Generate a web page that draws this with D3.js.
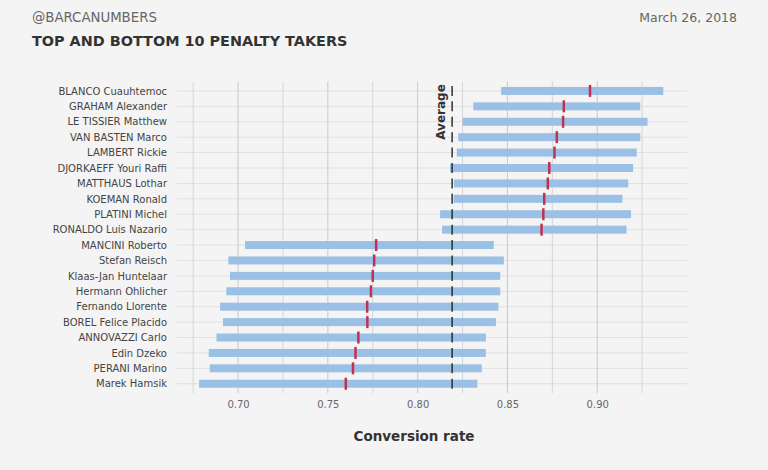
<!DOCTYPE html>
<html>
<head>
<meta charset="utf-8">
<script src="https://cdn.jsdelivr.net/npm/d3@7"></script>
<style>
    body { margin: 0; background: #f4f4f4; }
    svg { display: block; font-family: "DejaVu Sans", sans-serif; }
</style>
</head>
<body>
<div class="graph"></div>
<script>
// players, top to bottom
var players = [
    'BLANCO Cuauhtemoc', 'GRAHAM Alexander', 'LE TISSIER Matthew', 'VAN BASTEN Marco',
    'LAMBERT Rickie', 'DJORKAEFF Youri Raffi', 'MATTHAUS Lothar', 'KOEMAN Ronald',
    'PLATINI Michel', 'RONALDO Luis Nazario', 'MANCINI Roberto', 'Stefan Reisch',
    'Klaas-Jan Huntelaar', 'Hermann Ohlicher', 'Fernando Llorente', 'BOREL Felice Placido',
    'ANNOVAZZI Carlo', 'Edin Dzeko', 'PERANI Marino', 'Marek Hamsik'
];
var lowValues = [0.8465, 0.831, 0.825, 0.8226, 0.8218, 0.818, 0.8202, 0.820, 0.8125, 0.8136,
    0.7039, 0.6946, 0.6955, 0.6935, 0.690, 0.6916, 0.688, 0.6837, 0.6842, 0.6783];
var highValues = [0.9368, 0.924, 0.928, 0.924, 0.922, 0.920, 0.9173, 0.914, 0.9188, 0.9163,
    0.8424, 0.848, 0.846, 0.846, 0.845, 0.8436, 0.838, 0.838, 0.8357, 0.8333];
var rates = [0.896, 0.8814, 0.881, 0.8775, 0.8762, 0.8733, 0.8725, 0.8705, 0.870, 0.869,
    0.7769, 0.7758, 0.775, 0.774, 0.7719, 0.772, 0.767, 0.7654, 0.764, 0.760];
var average = 0.8192;
var majorTicks = [0.70, 0.75, 0.80, 0.85, 0.90];
var minorTicks = [0.675, 0.725, 0.775, 0.825, 0.875, 0.925];

var width = 768, height = 470;
var panelLeft = 177, panelRight = 687, panelTop = 81.7, panelBottom = 393;

var svg = d3.select('.graph')
    .append('svg')
    .attr('width', width)
    .attr('height', height);

svg.append('rect').attr('width', width).attr('height', height).attr('fill', '#f4f4f4');

var xScale = d3.scaleLinear().domain([0.666, 0.950]).range([panelLeft, panelRight]);
var yScale = d3.scalePoint().domain(players).range([panelTop, panelBottom]).padding(0.6);

// grid
svg.append('g')
    .selectAll('line')
    .data(players)
    .enter()
    .append('line')
    .attr('x1', panelLeft).attr('x2', panelRight)
    .attr('y1', function (d) { return yScale(d); })
    .attr('y2', function (d) { return yScale(d); })
    .attr('stroke', '#e0e0e0')
    .attr('stroke-width', 1);

svg.append('g')
    .selectAll('line')
    .data(minorTicks)
    .enter()
    .append('line')
    .attr('x1', function (d) { return xScale(d); })
    .attr('x2', function (d) { return xScale(d); })
    .attr('y1', panelTop).attr('y2', panelBottom)
    .attr('stroke', '#d6d6d6')
    .attr('stroke-width', 1);

svg.append('g')
    .selectAll('line')
    .data(majorTicks)
    .enter()
    .append('line')
    .attr('x1', function (d) { return xScale(d); })
    .attr('x2', function (d) { return xScale(d); })
    .attr('y1', panelTop).attr('y2', panelBottom)
    .attr('stroke', '#c8c8c8')
    .attr('stroke-width', 1);

// range bars
svg.append('g')
    .selectAll('rect')
    .data(players)
    .enter()
    .append('rect')
    .attr('x', function (d, i) { return xScale(lowValues[i]); })
    .attr('y', function (d) { return yScale(d) - 4; })
    .attr('width', function (d, i) { return xScale(highValues[i]) - xScale(lowValues[i]); })
    .attr('height', 8)
    .attr('fill', '#9ac0e6');

// average dashes
svg.append('g')
    .selectAll('line')
    .data(players)
    .enter()
    .append('line')
    .attr('x1', xScale(average)).attr('x2', xScale(average))
    .attr('y1', function (d) { return yScale(d) - 5; })
    .attr('y2', function (d) { return yScale(d) + 5; })
    .attr('stroke', '#222')
    .attr('stroke-width', 1.4);

// conversion rate
svg.append('g')
    .selectAll('line')
    .data(players)
    .enter()
    .append('line')
    .attr('x1', function (d, i) { return xScale(rates[i]); })
    .attr('x2', function (d, i) { return xScale(rates[i]); })
    .attr('y1', function (d) { return yScale(d) - 6; })
    .attr('y2', function (d) { return yScale(d) + 6; })
    .attr('stroke', '#c3304f')
    .attr('stroke-width', 2.5);

svg.append('text')
    .attr('transform', 'translate(' + (xScale(average) - 7) + ',' + 112 + ') rotate(-90)')
    .attr('text-anchor', 'middle')
    .attr('font-size', 12)
    .attr('font-weight', 'bold')
    .attr('fill', '#333')
    .text('Average');

// axes
var yAxis = d3.axisLeft(yScale).tickSize(0).tickPadding(10);
svg.append('g')
    .attr('transform', 'translate(' + panelLeft + ',0)')
    .call(yAxis)
    .call(function (g) { g.select('.domain').remove(); })
    .selectAll('text')
    .attr('font-family', '"DejaVu Sans", sans-serif')
    .attr('font-size', 10)
    .attr('fill', '#444');

var xAxis = d3.axisBottom(xScale).tickValues(majorTicks).tickFormat(d3.format('.2f')).tickSize(0).tickPadding(8);
svg.append('g')
    .attr('transform', 'translate(0,' + panelBottom + ')')
    .call(xAxis)
    .call(function (g) { g.select('.domain').remove(); })
    .selectAll('text')
    .attr('font-family', '"DejaVu Sans", sans-serif')
    .attr('font-size', 10)
    .attr('fill', '#666');

svg.append('text')
    .attr('x', 414).attr('y', 441)
    .attr('text-anchor', 'middle')
    .attr('font-size', 13.5)
    .attr('font-weight', 'bold')
    .attr('fill', '#333')
    .text('Conversion rate');

// header
svg.append('text')
    .attr('x', 32).attr('y', 22)
    .attr('font-size', 13.3)
    .attr('fill', '#666')
    .text('@BARCANUMBERS');

svg.append('text')
    .attr('x', 32).attr('y', 46)
    .attr('font-size', 14.4)
    .attr('font-weight', 'bold')
    .attr('fill', '#333')
    .text('TOP AND BOTTOM 10 PENALTY TAKERS');

svg.append('text')
    .attr('x', 737).attr('y', 22)
    .attr('text-anchor', 'end')
    .attr('font-size', 12.5)
    .attr('fill', '#666')
    .text('March 26, 2018');
</script>
</body>
</html>
